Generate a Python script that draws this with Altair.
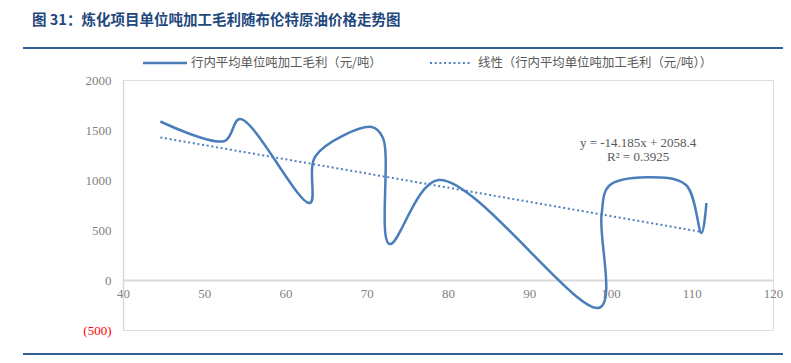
import altair as alt
import pandas as pd

# Brent price (USD/bbl) vs. industry average processing margin (CNY/t), in plotted order
brent = [44.6, 52.5, 54.4, 63.0, 63.7, 70.6, 72.0, 72.8, 78.8, 98.7, 98.9, 99.8, 104.5, 109.3, 111.2, 111.8]
margin = [1585, 1390, 1610, 770, 1240, 1530, 1420, 360, 1000, -275, 650, 940, 1027, 950, 470, 770]

# Linear trend end points (y = -14.185x + 2058.4)
trend_x = [44.6, 111.2]
trend_y = [1425.7, 481.0]

eq_lines = ["y = -14.185x + 2058.4", "R² = 0.3925"]
eq_x = [103.4, 103.4]
eq_y = [1370, 1230]

title_text = "图 31：炼化项目单位吨加工毛利随布伦特原油价格走势图"
legend_main = "行内平均单位吨加工毛利（元/吨）"
legend_trend = "线性（行内平均单位吨加工毛利（元/吨））"

x_ticks = [40, 50, 60, 70, 80, 90, 100, 110, 120]
y_ticks = [-500, 0, 500, 1000, 1500, 2000]

LINE = "#4A7EBB"
DOT = "#4F81BD"
GRAY = "#7F7F7F"
SERIF = "Liberation Serif"
CJK = "Noto Sans CJK SC"

df = pd.DataFrame({"x": brent, "y": margin, "idx": list(range(len(brent)))})
df_tr = pd.DataFrame({"x": trend_x, "y": trend_y})
df_eq = pd.DataFrame({"x": eq_x, "y": eq_y, "t": eq_lines})
one = pd.DataFrame({"a": [0]})

xs = alt.Scale(domain=[40, 120], nice=False, zero=False)
ys = alt.Scale(domain=[-500, 2000], nice=False, zero=False)

x_axis = alt.Axis(values=x_ticks, offset=-50, ticks=False, grid=False,
                  domainColor="#D9D9D9", domainWidth=2, labelFont=SERIF,
                  labelFontSize=13, labelColor=GRAY, labelPadding=7,
                  labelFlush=False, title=None)
y_axis = alt.Axis(values=y_ticks, ticks=False, grid=False,
                  domainColor="#D9D9D9", domainWidth=1.5, labelFont=SERIF,
                  labelFontSize=13, labelPadding=12, title=None,
                  labelExpr="datum.value < 0 ? '(' + format(-datum.value, 'd') + ')' : format(datum.value, 'd')",
                  labelColor={"condition": {"test": "datum.value < 0", "value": "#FF0000"}, "value": GRAY})

main = alt.Chart(df).mark_line(interpolate="catmull-rom", color=LINE, strokeWidth=2.5).encode(
    x=alt.X("x:Q", scale=xs, axis=x_axis),
    y=alt.Y("y:Q", scale=ys, axis=y_axis),
    order=alt.Order("idx:Q"),
)

trend = alt.Chart(df_tr).mark_line(color=DOT, strokeWidth=2, strokeDash=[2, 2.7]).encode(
    x=alt.X("x:Q", scale=xs), y=alt.Y("y:Q", scale=ys)
)

eq = alt.Chart(df_eq).mark_text(font=SERIF, fontSize=13, color="#595959", align="center", baseline="middle").encode(
    x=alt.X("x:Q", scale=xs), y=alt.Y("y:Q", scale=ys), text="t:N"
)

title = alt.Chart(one).mark_text(text=title_text, font=CJK, fontSize=14.5, fontWeight="bold",
                                 color="#1F497D", align="left", baseline="middle").encode(
    x=alt.value(-91), y=alt.value(-59))
top_rule = alt.Chart(one).mark_rule(color="#2F6198", strokeWidth=2).encode(
    x=alt.value(-100), x2=alt.value(660), y=alt.value(-32))
bot_rule = alt.Chart(one).mark_rule(color="#2F6198", strokeWidth=2).encode(
    x=alt.value(-100), x2=alt.value(660), y=alt.value(274))

leg1 = alt.Chart(one).mark_rule(color=LINE, strokeWidth=2.5).encode(
    x=alt.value(20), x2=alt.value(64), y=alt.value(-17))
leg1t = alt.Chart(one).mark_text(text=legend_main, font=CJK, fontSize=12.4, color="#595959",
                                 align="left", baseline="middle").encode(x=alt.value(68), y=alt.value(-17))
leg2 = alt.Chart(one).mark_rule(color=DOT, strokeWidth=2, strokeDash=[2, 2.7]).encode(
    x=alt.value(307), x2=alt.value(347), y=alt.value(-17))
leg2t = alt.Chart(one).mark_text(text=legend_trend, font=CJK, fontSize=12.4, color="#595959",
                                 align="left", baseline="middle").encode(x=alt.value(355), y=alt.value(-17))

chart = alt.layer(trend, main, eq, title, top_rule, bot_rule, leg1, leg1t, leg2, leg2t).properties(
    width=650, height=250,
    padding={"left": 115, "top": 72, "right": 10, "bottom": 25},
    autosize=alt.AutoSizeParams(type="none"),
).configure_view(stroke=None).configure(background="white")

chart.save("out.html", embed_options={"renderer": "svg", "actions": False})
